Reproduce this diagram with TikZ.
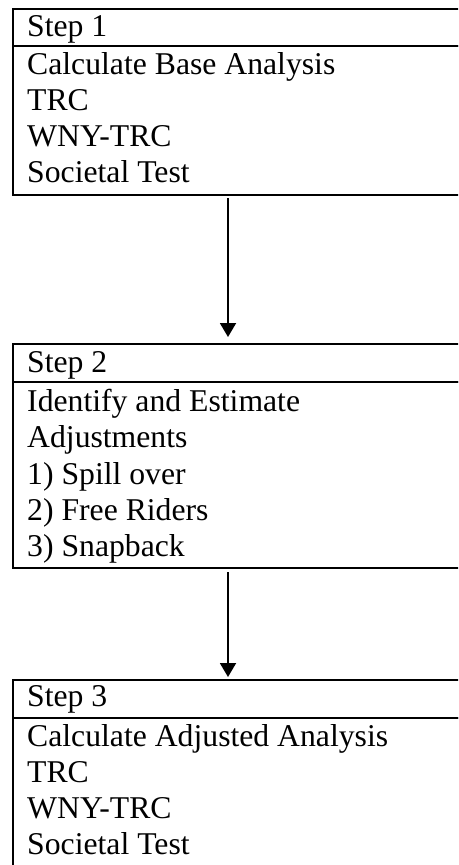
\documentclass[tikz,border=0pt]{standalone}
\usepackage{fontspec}
\setmainfont{Liberation Serif}
\usetikzlibrary{arrows.meta}
\begin{document}
\begin{tikzpicture}[x=1pt,y=-1pt,
  boxpart/.style={draw, line width=2.3pt, anchor=north west, minimum width=480pt, inner sep=0pt},
  txt/.style={anchor=base west, inner sep=0pt, font=\fontsize{31.7}{36}\selectfont},
  flow/.style={line width=1.9pt, -{Triangle[width=16pt,length=14pt]}}]
\useasboundingbox (0,0) rectangle (458,865);
\clip (0,0) rectangle (458,865);
% Step 1
\node[boxpart, minimum height=37pt] (h1) at (12,7.5) {};
\node[boxpart, minimum height=149.5pt] (b1) at (12,44.5) {};
\node[txt] (t1a) at (27,36.5) {Step 1};
\node[txt] (t1b) at (27,74.5) {Calculate Base Analysis};
\node[txt] (t1c) at (27,110.5) {TRC};
\node[txt] (t1d) at (27,146.5) {WNY-TRC};
\node[txt] (t1e) at (27,182.5) {Societal Test};
% Step 2
\node[boxpart, minimum height=37.5pt] (h2) at (12,343) {};
\node[boxpart, minimum height=186.5pt] (b2) at (12,380.5) {};
\node[txt] (t2a) at (27,372) {Step 2};
\node[txt] (t2b) at (27,411.5) {Identify and Estimate};
\node[txt] (t2c) at (27,447.5) {Adjustments};
\node[txt] (t2d) at (27,484) {1) Spill over};
\node[txt] (t2e) at (27,520) {2) Free Riders};
\node[txt] (t2f) at (27,556.5) {3) Snapback};
% Step 3
\node[boxpart, minimum height=37.5pt] (h3) at (12,679) {};
\node[boxpart, minimum height=220pt] (b3) at (12,716.5) {};
\node[txt] (t3a) at (27,706) {Step 3};
\node[txt] (t3b) at (27,746.5) {Calculate Adjusted Analysis};
\node[txt] (t3c) at (27,782) {TRC};
\node[txt] (t3d) at (27,818) {WNY-TRC};
\node[txt] (t3e) at (27,854) {Societal Test};
% arrows
\coordinate (ax) at (228,0);
\draw[flow, shorten <=2pt, shorten >=6pt] (b1.south -| ax) -- (h2.north -| ax);
\draw[flow, shorten <=3pt, shorten >=2pt] (b2.south -| ax) -- (h3.north -| ax);
\end{tikzpicture}
\end{document}
